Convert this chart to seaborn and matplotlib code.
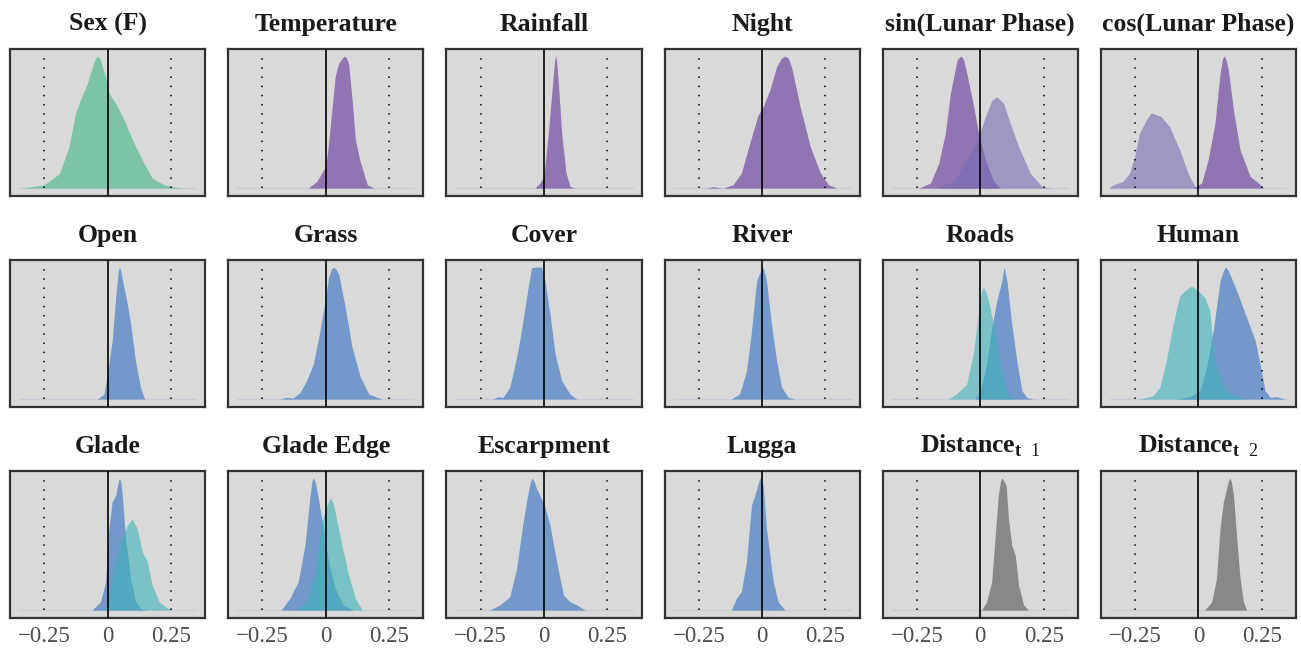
import numpy as np
import pandas as pd
import matplotlib.pyplot as plt
import seaborn as sns

# panel titles, row by row
titles = ["Sex (F)", "Temperature", "Rainfall", "Night", "sin(Lunar Phase)", "cos(Lunar Phase)",
          "Open", "Grass", "Cover", "River", "Roads", "Human",
          "Glade", "Glade Edge", "Escarpment", "Lugga",
          r"$\mathbf{Distance}_{\mathbf{t}\;\;\mathrm{1}}$", r"$\mathbf{Distance}_{\mathbf{t}\;\;\mathrm{2}}$"]

# posterior densities (x = coefficient, h = height relative to panel peak)
sex_x = [-0.34, -0.25, -0.19, -0.153, -0.126, -0.107, -0.08, -0.06, -0.048, -0.041, -0.034, -0.028, -0.008, 0.005, 0.032, 0.064, 0.104, 0.143, 0.176, 0.222, 0.275, 0.31]
sex_h = [0, 0.025, 0.11, 0.31, 0.57, 0.67, 0.79, 0.92, 0.98, 1.0, 0.99, 0.97, 0.84, 0.72, 0.64, 0.52, 0.34, 0.19, 0.075, 0.025, 0.005, 0]

temp_x = [-0.069, -0.036, 0, 0.011, 0.024, 0.037, 0.05, 0.066, 0.074, 0.082, 0.09, 0.104, 0.117, 0.134, 0.15, 0.164, 0.19]
temp_h = [0, 0.05, 0.163, 0.339, 0.59, 0.842, 0.942, 0.985, 1.0, 0.985, 0.942, 0.666, 0.364, 0.214, 0.113, 0.025, 0]

rain_x = [-0.036, -0.016, 0, 0.017, 0.034, 0.042, 0.046, 0.05, 0.057, 0.07, 0.087, 0.103, 0.123]
rain_h = [0, 0.038, 0.088, 0.415, 0.791, 0.96, 1.0, 0.96, 0.791, 0.415, 0.113, 0.013, 0]

night_x = [-0.221, -0.193, -0.155, -0.115, -0.082, -0.049, -0.016, 0.004, 0.03, 0.057, 0.075, 0.09, 0.104, 0.116, 0.15, 0.19, 0.23, 0.262, 0.295]
night_h = [0, 0.01, 0, 0.025, 0.113, 0.339, 0.553, 0.616, 0.741, 0.917, 0.98, 1.0, 0.98, 0.917, 0.616, 0.314, 0.113, 0.025, 0]

sin_a_x = [-0.243, -0.197, -0.164, -0.138, -0.118, -0.092, -0.083, -0.075, -0.066, -0.053, -0.026, -0.007, 0.02, 0.053, 0.079]
sin_a_h = [0, 0.038, 0.188, 0.415, 0.716, 0.967, 0.99, 1.0, 0.97, 0.867, 0.616, 0.415, 0.214, 0.05, 0]
sin_b_x = [-0.171, -0.105, -0.053, -0.007, 0.02, 0.046, 0.066, 0.092, 0.118, 0.151, 0.197, 0.243, 0.276]
sin_b_h = [0, 0.05, 0.214, 0.389, 0.54, 0.666, 0.691, 0.641, 0.49, 0.314, 0.113, 0.013, 0]

cos_a_x = [-0.021, 0.012, 0.038, 0.065, 0.085, 0.095, 0.102, 0.109, 0.118, 0.138, 0.164, 0.204, 0.237, 0.257]
cos_a_h = [0, 0.038, 0.214, 0.49, 0.867, 0.98, 1.0, 0.97, 0.892, 0.59, 0.289, 0.088, 0.038, 0]
cos_b_x = [-0.35, -0.345, -0.299, -0.272, -0.252, -0.233, -0.206, -0.187, -0.147, -0.114, -0.074, -0.041, -0.015, 0.005]
cos_b_h = [0, 0.018, 0.05, 0.113, 0.239, 0.415, 0.515, 0.57, 0.54, 0.465, 0.289, 0.113, 0.013, 0]

open_x = [-0.041, -0.014, 0.005, 0.018, 0.032, 0.042, 0.047, 0.052, 0.062, 0.078, 0.091, 0.11, 0.13, 0.146]
open_h = [0, 0.038, 0.264, 0.441, 0.768, 0.97, 1.0, 0.97, 0.869, 0.718, 0.567, 0.29, 0.088, 0]

grass_x = [-0.182, -0.156, -0.129, -0.102, -0.076, -0.049, -0.023, -0.003, 0.011, 0.022, 0.031, 0.04, 0.051, 0.077, 0.104, 0.137, 0.17, 0.203, 0.223]
grass_h = [0, 0.013, 0.008, 0.05, 0.139, 0.264, 0.516, 0.743, 0.919, 0.985, 1.0, 0.985, 0.945, 0.693, 0.39, 0.164, 0.038, 0.013, 0]

cover_x = [-0.201, -0.181, -0.161, -0.135, -0.108, -0.089, -0.069, -0.049, -0.029, -0.009, 0.004, 0.024, 0.044, 0.07, 0.103, 0.13]
cover_h = [0, 0.018, 0.013, 0.088, 0.315, 0.516, 0.768, 0.995, 1.0, 1.0, 0.894, 0.642, 0.34, 0.139, 0.038, 0]

river_x = [-0.122, -0.089, -0.062, -0.042, -0.022, -0.009, 0.004, 0.017, 0.037, 0.057, 0.077, 0.103, 0.13]
river_h = [0, 0.038, 0.214, 0.516, 0.894, 0.957, 1.0, 0.894, 0.567, 0.29, 0.088, 0.013, 0]

roads_a_x = [-0.021, 0, 0.025, 0.045, 0.065, 0.085, 0.094, 0.105, 0.124, 0.144, 0.164, 0.184, 0.21]
roads_a_h = [0, 0.063, 0.264, 0.542, 0.743, 0.894, 1.0, 0.894, 0.567, 0.29, 0.063, 0.013, 0]
roads_b_x = [-0.127, -0.094, -0.054, -0.028, -0.008, 0.005, 0.012, 0.02, 0.032, 0.052, 0.071, 0.091, 0.111, 0.131]
roads_b_h = [0, 0.038, 0.113, 0.34, 0.642, 0.82, 0.849, 0.82, 0.743, 0.567, 0.34, 0.139, 0.038, 0]

human_a_x = [-0.087, -0.034, 0.005, 0.032, 0.058, 0.085, 0.1, 0.107, 0.115, 0.124, 0.151, 0.19, 0.224, 0.243, 0.263, 0.283, 0.31, 0.343]
human_a_h = [0, 0.018, 0.063, 0.239, 0.516, 0.894, 0.98, 1.0, 0.98, 0.945, 0.819, 0.617, 0.441, 0.264, 0.063, 0.013, 0.018, 0]
human_b_x = [-0.233, -0.18, -0.153, -0.127, -0.1, -0.074, -0.054, -0.028, -0.001, 0.025, 0.045, 0.058, 0.078, 0.111, 0.151, 0.19]
human_b_h = [0, 0.025, 0.088, 0.29, 0.567, 0.781, 0.819, 0.856, 0.819, 0.768, 0.668, 0.39, 0.189, 0.063, 0.018, 0]

glade_a_x = [-0.061, -0.028, -0.008, 0.005, 0.018, 0.032, 0.042, 0.047, 0.052, 0.058, 0.071, 0.091, 0.111, 0.13, 0.157]
glade_a_h = [0, 0.063, 0.214, 0.617, 0.819, 0.869, 0.97, 1.0, 0.97, 0.869, 0.542, 0.239, 0.063, 0.013, 0]
glade_b_x = [-0.028, -0.001, 0.025, 0.051, 0.078, 0.097, 0.117, 0.137, 0.157, 0.176, 0.203, 0.229, 0.249]
glade_b_h = [0, 0.038, 0.315, 0.516, 0.642, 0.688, 0.617, 0.441, 0.365, 0.189, 0.063, 0.025, 0]

edge_a_x = [-0.176, -0.142, -0.109, -0.082, -0.062, -0.054, -0.049, -0.043, -0.036, -0.016, 0.011, 0.037, 0.07, 0.11]
edge_a_h = [0, 0.088, 0.214, 0.491, 0.869, 0.98, 1.0, 0.98, 0.919, 0.693, 0.365, 0.164, 0.038, 0]
edge_b_x = [-0.116, -0.076, -0.043, -0.016, 0.004, 0.017, 0.027, 0.037, 0.064, 0.09, 0.117, 0.144]
edge_b_h = [0, 0.063, 0.264, 0.668, 0.793, 0.849, 0.82, 0.743, 0.491, 0.264, 0.088, 0]

escarp_x = [-0.214, -0.175, -0.135, -0.108, -0.082, -0.062, -0.052, -0.046, -0.038, -0.029, 0, 0.024, 0.05, 0.077, 0.103, 0.13, 0.163]
escarp_h = [0, 0.038, 0.101, 0.315, 0.668, 0.894, 0.98, 1.0, 0.97, 0.919, 0.806, 0.642, 0.365, 0.113, 0.063, 0.038, 0]

lugga_x = [-0.122, -0.102, -0.082, -0.062, -0.042, -0.029, -0.009, 0.004, 0.017, 0.044, 0.063, 0.09]
lugga_h = [0, 0.088, 0.139, 0.365, 0.793, 0.869, 1.0, 0.945, 0.617, 0.214, 0.063, 0]

dist1_x = [0.005, 0.025, 0.045, 0.058, 0.071, 0.08, 0.085, 0.092, 0.102, 0.111, 0.124, 0.138, 0.151, 0.171, 0.19]
dist1_h = [0, 0.063, 0.214, 0.542, 0.869, 0.98, 1.0, 0.98, 0.945, 0.693, 0.491, 0.416, 0.189, 0.038, 0]

dist2_x = [0.025, 0.052, 0.071, 0.085, 0.098, 0.108, 0.118, 0.124, 0.13, 0.138, 0.151, 0.164, 0.177, 0.19]
dist2_h = [0, 0.063, 0.239, 0.617, 0.819, 0.894, 0.98, 1.0, 0.97, 0.869, 0.542, 0.239, 0.063, 0]

# colours (drawn with alpha over the grey panel)
green = "#40B687"
purple = "#613298"
lilac = "#756BB4"
blue = "#2F6EC0"
teal = "#3BB4B9"
grey = "#525252"

# which curves go in which panel (drawing order)
panels = [
    [(sex_x, sex_h, green)],
    [(temp_x, temp_h, purple)],
    [(rain_x, rain_h, purple)],
    [(night_x, night_h, purple)],
    [(sin_a_x, sin_a_h, purple), (sin_b_x, sin_b_h, lilac)],
    [(cos_b_x, cos_b_h, lilac), (cos_a_x, cos_a_h, purple)],
    [(open_x, open_h, blue)],
    [(grass_x, grass_h, blue)],
    [(cover_x, cover_h, blue)],
    [(river_x, river_h, blue)],
    [(roads_a_x, roads_a_h, blue), (roads_b_x, roads_b_h, teal)],
    [(human_a_x, human_a_h, blue), (human_b_x, human_b_h, teal)],
    [(glade_a_x, glade_a_h, blue), (glade_b_x, glade_b_h, teal)],
    [(edge_a_x, edge_a_h, blue), (edge_b_x, edge_b_h, teal)],
    [(escarp_x, escarp_h, blue)],
    [(lugga_x, lugga_h, blue)],
    [(dist1_x, dist1_h, grey)],
    [(dist2_x, dist2_h, grey)],
]

sns.set_theme(style="white")
plt.rcParams["font.family"] = ["Liberation Serif", "DejaVu Serif"]
plt.rcParams["mathtext.fontset"] = "custom"
plt.rcParams["mathtext.rm"] = "Liberation Serif"
plt.rcParams["mathtext.bf"] = "Liberation Serif:bold"
plt.rcParams["axes.unicode_minus"] = True

fig, axes = plt.subplots(3, 6, figsize=(13.01, 6.48), dpi=100, sharex=True)
fig.subplots_adjust(left=0.0077, right=0.9962, top=0.9244, bottom=0.0463,
                    wspace=0.118, hspace=0.435)

for i, ax in enumerate(axes.flat):
    ax.set_facecolor("#D9D9D9")
    ax.plot([-0.35, 0.35], [0, 0], color="#C9CCD6", lw=1, zorder=1)
    for x, h, col in panels[i]:
        df = pd.DataFrame({"x": x, "h": h})
        ax.fill_between(df["x"], 0, df["h"], color=col, alpha=0.6, lw=0, zorder=2)
    ax.vlines([-0.25, 0.25], 0, 1.0, colors="black", linestyles=(0, (1, 5)), lw=1.1, zorder=3)
    ax.axvline(0, color="black", lw=1.2, zorder=4)
    ax.set_xlim(-0.385, 0.385)
    ax.set_ylim(-0.06, 1.053)
    ax.set_yticks([])
    ax.set_xticks([-0.25, 0, 0.25])
    ax.set_xticklabels(["\u22120.25", "0", "0.25"])
    ax.tick_params(axis="x", length=0, pad=5.5, labelsize=16.5, labelcolor="#4D4D4D")
    for s in ax.spines.values():
        s.set_color("#333333")
        s.set_linewidth(1.6)
    ax.set_title(titles[i], fontsize=18.5, fontweight="bold", pad=13, color="#1A1A1A")
    ax.set_xlabel("")
    ax.set_ylabel("")

fig.savefig("out.png", dpi=100, facecolor="white")
